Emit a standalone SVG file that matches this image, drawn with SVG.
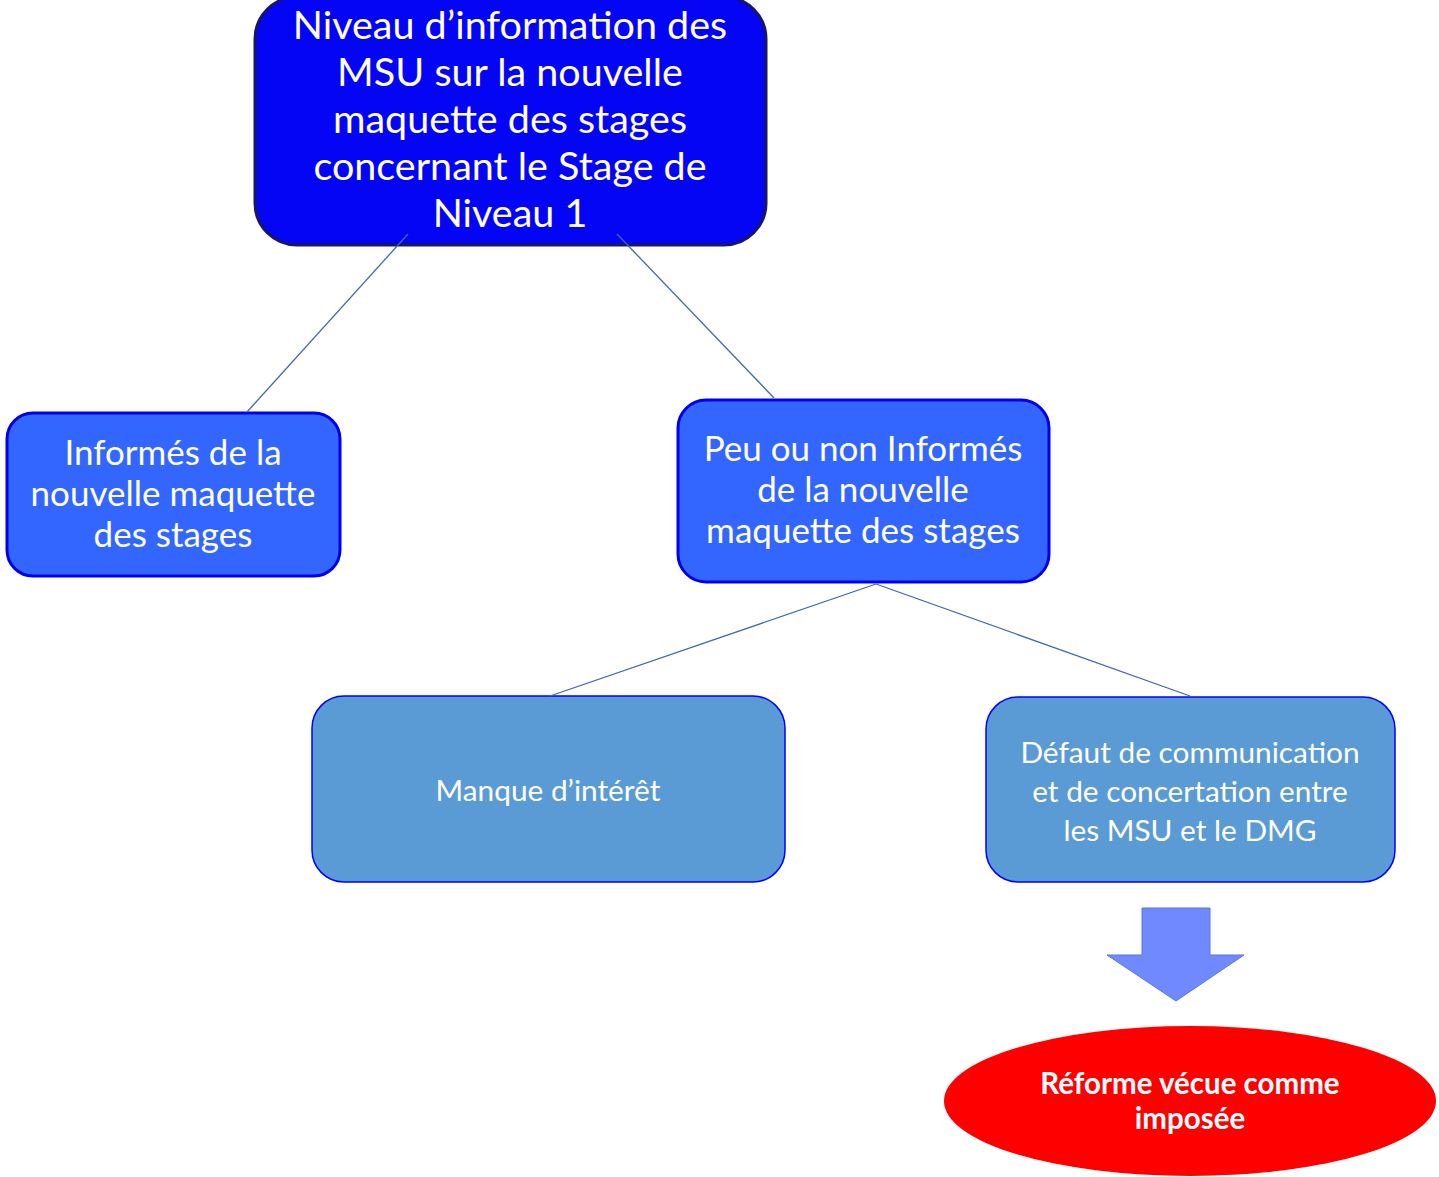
<svg xmlns="http://www.w3.org/2000/svg" width="1439" height="1177" viewBox="0 0 1439 1177">
<style>
text{font-family:Lato,"Open Sans","Liberation Sans",sans-serif;fill:#fff;text-anchor:middle}
.t1{font-size:39.5px}
.t2{font-size:35px}
.t3{font-size:29.8px}
.t4{font-size:29.5px;font-weight:bold}
.conn{stroke:#4568a8;stroke-width:1.3;fill:none}
</style>
<rect width="1439" height="1177" fill="#fff"/>
<g id="top">
<rect x="255" y="-3" width="511" height="248" rx="42" fill="#0505f5" stroke="#16166a" stroke-width="3"/>
<text class="t1" x="510" y="39">Niveau d’information des</text>
<text class="t1" x="510" y="86">MSU sur la nouvelle</text>
<text class="t1" x="510" y="133">maquette des stages</text>
<text class="t1" x="510" y="180">concernant le Stage de</text>
<text class="t1" x="510" y="227">Niveau 1</text>
</g>
<g id="informes">
<rect x="7" y="413" width="333" height="163" rx="26" fill="#3366ff" stroke="#0000ee" stroke-width="3"/>
<text class="t2" x="173" y="465">Informés de la</text>
<text class="t2" x="173" y="506">nouvelle maquette</text>
<text class="t2" x="173" y="547">des stages</text>
</g>
<g id="peu">
<rect x="678" y="400" width="371" height="182" rx="28" fill="#3366ff" stroke="#0000ee" stroke-width="3"/>
<text class="t2" x="863" y="461">Peu ou non Informés</text>
<text class="t2" x="863" y="502">de la nouvelle</text>
<text class="t2" x="863" y="543">maquette des stages</text>
</g>
<g id="manque">
<rect x="312" y="696" width="473" height="186" rx="32" fill="#5b9bd5" stroke="#0000ff" stroke-width="1.5"/>
<text class="t3" x="548" y="801">Manque d’intérêt</text>
</g>
<g id="defaut">
<rect x="986" y="697" width="409" height="185" rx="32" fill="#5b9bd5" stroke="#0000ff" stroke-width="1.5"/>
<text class="t3" x="1190" y="763">Défaut de communication</text>
<text class="t3" x="1190" y="802">et de concertation entre</text>
<text class="t3" x="1190" y="841">les MSU et le DMG</text>
</g>
<g id="arrow">
<polygon points="1142,908 1210,908 1210,955 1244,955 1176,1001 1107,955 1142,955" fill="#7089ff" stroke="#5a78d8" stroke-width="1"/>
</g>
<g id="reforme">
<ellipse cx="1190" cy="1101" rx="246" ry="75" fill="#ff0000"/>
<text class="t4" x="1190" y="1094">Réforme vécue comme</text>
<text class="t4" x="1190" y="1129">imposée</text>
</g>
<g id="connectors">
<line class="conn" x1="408" y1="234" x2="247" y2="412"/>
<line class="conn" x1="617" y1="234" x2="774" y2="398"/>
<line class="conn" x1="876" y1="584" x2="550" y2="696"/>
<line class="conn" x1="876" y1="584" x2="1190" y2="696"/>
</g>
</svg>
